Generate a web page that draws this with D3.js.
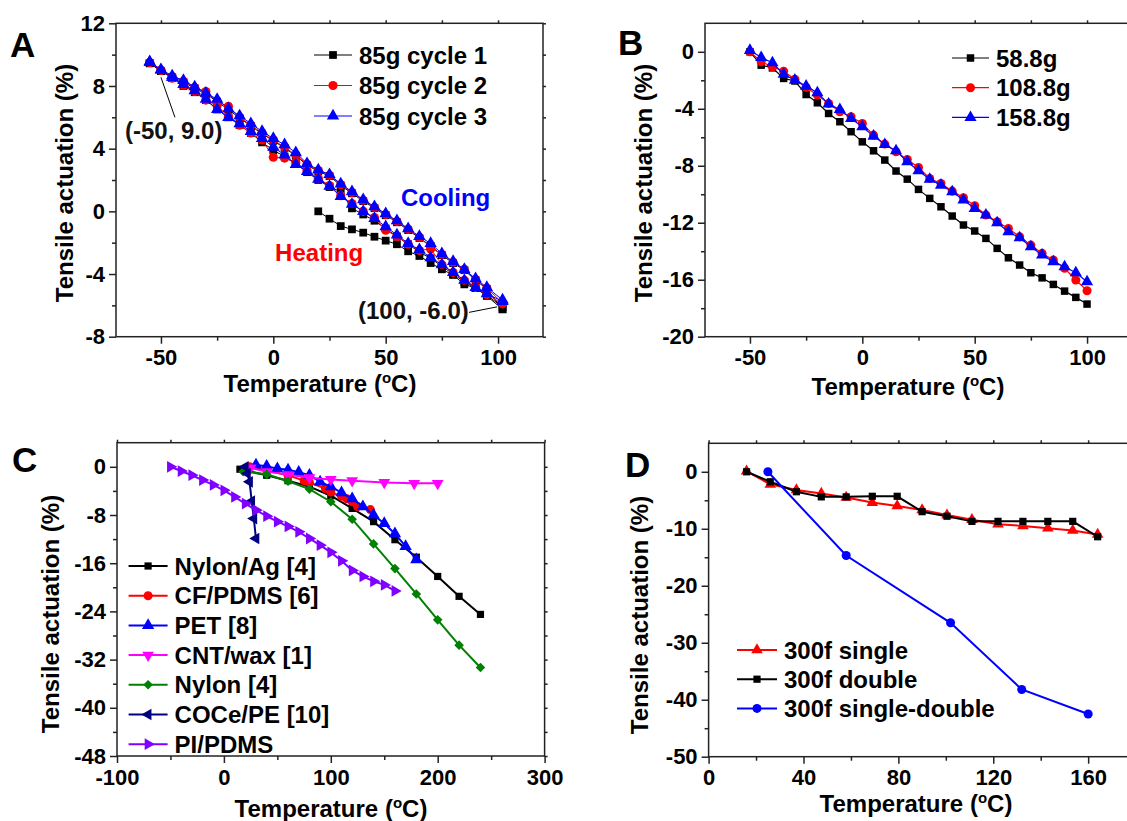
<!DOCTYPE html>
<html lang="en">
<head>
<meta charset="UTF-8">
<title>Tensile actuation</title>
<script src="https://d3js.org/d3.v7.min.js"></script>
<style>
body {margin:0; background:#fff}
svg text {font-family:"Liberation Sans", Arial, Helvetica, sans-serif; font-weight:bold}
</style>
</head>
<body>
<svg id="chart" width="1127" height="821"></svg>
<script>
// ---------- panel A : three thermal cycles under 85 g ----------
var tA_first = [20,25,30,35,40,45,50,55,60,65,70,75,80,85,90,95,102];
var yA1_first = [0,-0.47,-0.94,-1.15,-1.36,-1.62,-1.87,-2.1,-2.55,-2.85,-3.3,-3.7,-4.06,-4.66,-4.9,-5.4,-6.25];
var tA_cool = [102,95,90,85,80,75,70,65,60,55,50,45,40,35,30,25,20,15,10,5,0,-5,-10,-15,-20,-25,-30,-35,-40,-45,-50,-55];
var tA_heat = [-55,-50,-45,-40,-35,-30,-25,-20,-15,-10,-5,0,5,10,15,20,25,30,35,40,45,50,55,60,65,70,75,80,85,90,95,102];
var yA1_cool = [-6.25,-4.95,-4.4,-3.75,-3.3,-2.8,-2.2,-1.7,-1.2,-0.7,-0.25,0.2,0.65,1.15,1.65,2.25,2.55,2.95,3.55,4.05,4.5,4.95,5.45,5.95,6.5,7.0,7.5,7.85,8.25,8.55,8.95,9.45];
var yA1_heat = [9.45,8.95,8.5,8.0,7.6,7.1,6.5,6.0,5.5,5.0,4.4,3.9,3.5,3.05,2.5,2.0,1.55,1.26,0.19,-0.2,-0.6,-1.1,-1.6,-2.1,-2.6,-3.0,-3.5,-4.0,-4.5,-4.9,-5.35,-6.1];
var yA2_cool = [-5.85,-4.9,-4.35,-3.7,-3.25,-2.75,-2.3,-1.65,-1.15,-0.65,-0.2,0.25,0.7,1.2,1.7,2.3,2.6,3.0,3.6,4.1,4.55,5.0,5.5,6.0,6.7,7.0,7.65,7.9,8.3,8.6,9.0,9.5];
var yA2_heat = [9.5,9.0,8.5,8.05,7.65,7.1,6.75,6.05,5.5,5.0,4.55,3.45,3.4,3.1,2.6,2.1,1.65,1.0,0.5,0.0,-0.4,-1.2,-1.6,-2.1,-2.5,-2.4,-3.4,-3.9,-4.4,-4.85,-5.3,-5.9];
var yA3_cool = [-5.65,-4.85,-4.3,-3.7,-3.2,-2.7,-2.05,-1.6,-1.1,-0.6,-0.15,0.3,0.75,1.25,1.75,2.35,2.65,3.05,3.75,4.25,4.65,5.1,5.6,6.1,6.55,7.15,7.55,7.95,8.35,8.65,9.05,9.55];
var yA3_heat = [9.5,9.0,8.55,8.1,7.7,7.15,6.5,6.0,5.6,5.1,4.65,4.1,3.6,3.0,2.55,2.05,1.6,0.95,0.45,0.0,-0.45,-0.98,-1.5,-2.05,-2.45,-2.95,-3.4,-3.9,-4.4,-4.85,-5.25,-5.75];
var legendA = ["85g cycle 1", "85g cycle 2", "85g cycle 3"];

// ---------- panel B : different loads ----------
var tB = [-50,-45,-40,-35,-30,-25,-20,-15,-10,-5,0,5,10,15,20,25,30,35,40,45,50,55,60,65,70,75,80,85,90,95,100];
var yB_58 = [0,-0.94,-1.13,-1.87,-2.05,-3.0,-3.58,-4.33,-4.91,-5.61,-6.32,-6.95,-7.6,-8.37,-8.94,-9.66,-10.29,-10.88,-11.53,-12.16,-12.58,-13.1,-13.8,-14.46,-14.97,-15.51,-15.87,-16.33,-16.8,-17.24,-17.71];
var yB_108 = [0,-0.7,-1.05,-1.36,-1.92,-2.5,-3.04,-3.63,-4.21,-4.56,-5.03,-5.85,-6.48,-7.02,-7.56,-8.12,-8.89,-9.24,-9.78,-10.25,-10.81,-11.46,-11.93,-12.4,-12.98,-13.57,-14.15,-14.62,-15.2,-16.02,-16.77];
var yB_158 = [0.1,-0.4,-0.77,-1.57,-1.99,-2.41,-2.88,-3.67,-4.05,-4.68,-5.26,-5.92,-6.51,-6.95,-7.72,-8.35,-8.94,-9.36,-9.82,-10.41,-11.0,-11.46,-12.0,-12.63,-13.05,-13.68,-14.27,-14.74,-15.09,-15.51,-16.14];
var legendB = ["58.8g", "108.8g", "158.8g"];

// ---------- panel C : comparison with literature ----------
var tC_nylonAg = [15,40,60,80,100,120,140,160,180,200,220,240];
var yC_nylonAg = [-0.4,-1.4,-2.3,-3.3,-4.8,-6.9,-9.1,-12.1,-15.0,-18.2,-21.5,-24.5];
var tC_cf = [24,40,60,75,80,95,100,110,115,120,125,137];
var yC_cf = [0,-0.6,-1.4,-2.3,-2.6,-3.6,-4.2,-4.9,-5.3,-5.8,-6.6,-7.1];
var tC_pet = [30,40,50,60,70,80,90,100,110,120,130,140,150,160,170,180];
var yC_pet = [0.3,0.1,-0.3,-0.5,-0.9,-1.4,-2.5,-3.3,-4.3,-5.3,-6.6,-8.0,-9.4,-11.1,-13.2,-15.4];
var tC_cnt = [25,40,60,80,100,120,150,178,200];
var yC_cnt = [-0.2,-0.8,-1.3,-1.8,-2.1,-2.3,-2.6,-2.75,-2.75];
var tC_nylon = [18,40,60,80,100,120,140,160,180,200,220,240];
var yC_nylon = [-0.8,-1.25,-2.4,-3.7,-5.8,-8.7,-12.8,-16.9,-21.1,-25.4,-29.6,-33.3];
var tC_coce = [20,22,24,26,28,30];
var yC_coce = [0,-1.1,-2.5,-5.7,-8.6,-11.9];
var tC_pi = [-50,-40,-30,-20,-10,0,10,20,30,40,50,60,70,80,90,100,110,120,130,140,150,160];
var yC_pi = [0,-0.7,-1.4,-2.2,-3.0,-3.9,-5.0,-6.1,-7.2,-8.2,-9.1,-9.9,-10.8,-11.9,-13.0,-14.2,-15.6,-17.2,-18.2,-19.0,-19.6,-20.6];
var legendC = ["Nylon/Ag [4]", "CF/PDMS [6]", "PET [8]", "CNT/wax [1]", "Nylon [4]", "COCe/PE [10]", "PI/PDMS"];

// ---------- panel D : 300f yarns ----------
var tD = [16,26,37,47.5,58,69,79.5,90,100.5,111,122,132.5,143,153.5,164];
var yD_single = [0.1,-2.2,-3.2,-3.8,-4.5,-5.4,-6.0,-6.7,-7.6,-8.4,-9.2,-9.5,-9.9,-10.3,-11.0];
var yD_double = [0,-1.75,-3.5,-4.4,-4.4,-4.3,-4.3,-7.0,-7.8,-8.7,-8.7,-8.7,-8.7,-8.7,-11.4];
var tD_sd = [25,58,102,132,160];
var yD_sd = [0,-14.7,-26.5,-38.2,-42.5];
var legendD = ["300f single", "300f double", "300f single-double"];

// tick values
var ticksA = {xMajor:[-50,0,50,100], xMinor:[-25,25,75], yMajor:[-8,-4,0,4,8,12], yMinor:[-6,-2,2,6,10]};
var ticksB = {xMajor:[-50,0,50,100], xMinor:[-25,25,75], yMajor:[-20,-16,-12,-8,-4,0], yMinor:[-18,-14,-10,-6,-2]};
var ticksC = {xMajor:[-100,0,100,200,300], xMinor:[-50,50,150,250], yMajor:[-48,-40,-32,-24,-16,-8,0], yMinor:[-44,-36,-28,-20,-12,-4]};
var ticksD = {xMajor:[0,40,80,120,160], xMinor:[20,60,100,140], yMajor:[-50,-40,-30,-20,-10,0], yMinor:[-45,-35,-25,-15,-5]};

var svg = d3.select("#chart");

var shapes = {
  square: [d3.symbolSquare, 0],
  circle: [d3.symbolCircle, 0],
  up: [d3.symbolTriangle, 0],
  down: [d3.symbolTriangle, 180],
  left: [d3.symbolTriangle, -90],
  right: [d3.symbolTriangle, 90],
  diamond: [d3.symbolSquare, 45]
};

function symbolPath(shape, size) {
  return d3.symbol(shapes[shape][0], size)();
}

function makePanel(p) {
  var g = svg.append("g");
  var x = d3.scaleLinear().domain(p.xd).range([p.left, p.left + p.w]);
  var y = d3.scaleLinear().domain(p.yd).range([p.top + p.h, p.top]);
  var bottom = p.top + p.h, right = p.left + p.w;
  var fmt = function(d) { return String(d); };

  // bottom
  g.append("g").attr("transform", "translate(0," + bottom + ")")
    .call(d3.axisBottom(x).tickValues(p.ticks.xMajor).tickSize(7).tickPadding(6).tickFormat(fmt))
    .attr("font-size", 22).attr("font-family", null);
  g.append("g").attr("transform", "translate(0," + bottom + ")")
    .call(d3.axisBottom(x).tickValues(p.ticks.xMinor).tickSize(4).tickFormat(""));
  // left
  g.append("g").attr("transform", "translate(" + p.left + ",0)")
    .call(d3.axisLeft(y).tickValues(p.ticks.yMajor).tickSize(7).tickPadding(4).tickFormat(fmt))
    .attr("font-size", 22).attr("font-family", null);
  g.append("g").attr("transform", "translate(" + p.left + ",0)")
    .call(d3.axisLeft(y).tickValues(p.ticks.yMinor).tickSize(4).tickFormat(""));
  // top and right mirror ticks
  g.append("g").attr("transform", "translate(0," + p.top + ")")
    .call(d3.axisTop(x).tickValues(p.ticks.xMajor.concat(p.ticks.xMinor)).tickSize(3).tickFormat(""));
  g.append("g").attr("transform", "translate(" + right + ",0)")
    .call(d3.axisRight(y).tickValues(p.ticks.yMajor.concat(p.ticks.yMinor)).tickSize(3).tickFormat(""));

  g.selectAll(".domain").remove();
  g.selectAll(".tick line").attr("stroke", "#222").attr("stroke-width", 1.5);
  g.selectAll(".tick text").attr("fill", "#000");

  g.append("rect").attr("x", p.left).attr("y", p.top).attr("width", p.w).attr("height", p.h)
    .attr("fill", "none").attr("stroke", "#222").attr("stroke-width", 1.5);

  // titles
  var xt = g.append("text").attr("x", p.xTitle[0]).attr("y", p.xTitle[1])
    .attr("text-anchor", "middle").attr("font-size", 24);
  xt.append("tspan").text("Temperature (");
  xt.append("tspan").attr("font-size", 15).attr("dy", -9).text("o");
  xt.append("tspan").attr("dy", 9).text("C)");

  g.append("text").attr("transform", "translate(" + p.yTitle[0] + "," + p.yTitle[1] + ") rotate(-90)")
    .attr("text-anchor", "middle").attr("font-size", 24).text("Tensile actuation (%)");

  g.append("text").attr("x", p.letter[0]).attr("y", p.letter[1]).attr("font-size", 35).text(p.name);

  // series
  p.series.forEach(function(s) {
    var pts = d3.zip(s.t, s.v);
    g.append("path").datum(pts)
      .attr("d", d3.line().x(function(d) { return x(d[0]); }).y(function(d) { return y(d[1]); }))
      .attr("fill", "none").attr("stroke", s.color).attr("stroke-width", p.lw);
    g.selectAll(null).data(pts).join("path")
      .attr("d", symbolPath(s.shape, s.size || p.msize))
      .attr("transform", function(d) { return "translate(" + x(d[0]) + "," + y(d[1]) + ") rotate(" + shapes[s.shape][1] + ")"; })
      .attr("fill", s.color);
  });

  // legend
  var lg = g.append("g");
  p.legend.items.forEach(function(it, i) {
    var cy = p.legend.y + i * p.legend.dy;
    lg.append("line").attr("x1", p.legend.x).attr("x2", p.legend.x + p.legend.len)
      .attr("y1", cy).attr("y2", cy).attr("stroke", it.color).attr("stroke-width", p.legend.lw);
    lg.append("path").attr("d", symbolPath(it.shape, it.size || p.msize))
      .attr("transform", "translate(" + (p.legend.x + p.legend.len / 2) + "," + cy + ") rotate(" + shapes[it.shape][1] + ")")
      .attr("fill", it.color);
    lg.append("text").attr("x", p.legend.x + p.legend.len + 7).attr("y", cy).attr("dy", "0.36em")
      .attr("font-size", 24).text(it.label);
  });

  return {g: g, x: x, y: y};
}

// ---------- A ----------
var A = makePanel({
  name: "A", left: 116, top: 23.3, w: 427, h: 313.4, xd: [-70, 120], yd: [-8, 12], ticks: ticksA,
  xTitle: [320, 392], yTitle: [73, 183], letter: [10, 57], lw: 1, msize: 65,
  series: [
    {t: tA_first.concat(tA_cool, tA_heat), v: yA1_first.concat(yA1_cool, yA1_heat), color: "#000", shape: "square", size: 60},
    {t: tA_cool.concat(tA_heat), v: yA2_cool.concat(yA2_heat), color: "#ff0000", shape: "circle", size: 66},
    {t: tA_cool.concat(tA_heat), v: yA3_cool.concat(yA3_heat), color: "#0000ff", shape: "up", size: 66}
  ],
  legend: {x: 314, y: 55, dy: 30.5, len: 38, lw: 1.2, items: [
    {label: legendA[0], color: "#000", shape: "square", size: 60},
    {label: legendA[1], color: "#ff0000", shape: "circle", size: 66},
    {label: legendA[2], color: "#0000ff", shape: "up", size: 66}
  ]}
});
// annotations in A
A.g.append("line").attr("x1", A.x(-50)).attr("y1", A.y(9.0) + 7).attr("x2", A.x(-50) + 14).attr("y2", A.y(9.0) + 47)
  .attr("stroke", "#000").attr("stroke-width", 1);
A.g.append("text").attr("x", 125).attr("y", 139).attr("font-size", 24).attr("fill", "#111").text("(-50, 9.0)");
A.g.append("line").attr("x1", A.x(100) - 29).attr("y1", A.y(-6.0) + 7).attr("x2", A.x(100) - 1).attr("y2", A.y(-6.0) + 1.5)
  .attr("stroke", "#000").attr("stroke-width", 1);
A.g.append("text").attr("x", 358).attr("y", 319).attr("font-size", 24).attr("fill", "#111").text("(100, -6.0)");
A.g.append("text").attr("x", A.x(56.8)).attr("y", A.y(0.35)).attr("font-size", 24).attr("fill", "#0000ff").text("Cooling");
A.g.append("text").attr("x", A.x(0.8)).attr("y", A.y(-3.15)).attr("font-size", 24).attr("fill", "#ff0000").text("Heating");

// ---------- B ----------
makePanel({
  name: "B", left: 705, top: 23.3, w: 427, h: 313.4, xd: [-70, 120], yd: [-20, 2], ticks: ticksB,
  xTitle: [908, 395], yTitle: [652, 183], letter: [618, 55], lw: 1.2, msize: 60,
  series: [
    {t: tB, v: yB_58, color: "#000", shape: "square", size: 56},
    {t: tB, v: yB_108, color: "#ff0000", shape: "circle", size: 64},
    {t: tB, v: yB_158, color: "#0000ff", shape: "up", size: 64}
  ],
  legend: {x: 952, y: 58, dy: 29.7, len: 37, lw: 1.2, items: [
    {label: legendB[0], color: "#000", shape: "square", size: 56},
    {label: legendB[1], color: "#ff0000", shape: "circle", size: 64},
    {label: legendB[2], color: "#0000ff", shape: "up", size: 64}
  ]}
});

// ---------- C ----------
var colC = ["#000000", "#ff0000", "#0000ff", "#ff00ff", "#008000", "#000080", "#8000ff"];
var shpC = ["square", "circle", "up", "down", "diamond", "left", "right"];
var sizC = [52, 64, 66, 60, 46, 58, 60];
makePanel({
  name: "C", left: 117, top: 442.7, w: 427.6, h: 313.3, xd: [-100, 300], yd: [-48, 4], ticks: ticksC,
  xTitle: [331, 817], yTitle: [59, 614], letter: [12, 472], lw: 2, msize: 55,
  series: [
    {t: tC_nylonAg, v: yC_nylonAg, color: colC[0], shape: shpC[0], size: sizC[0]},
    {t: tC_cf, v: yC_cf, color: colC[1], shape: shpC[1], size: sizC[1]},
    {t: tC_pet, v: yC_pet, color: colC[2], shape: shpC[2], size: sizC[2]},
    {t: tC_cnt, v: yC_cnt, color: colC[3], shape: shpC[3], size: sizC[3]},
    {t: tC_nylon, v: yC_nylon, color: colC[4], shape: shpC[4], size: sizC[4]},
    {t: tC_coce, v: yC_coce, color: colC[5], shape: shpC[5], size: sizC[5]},
    {t: tC_pi, v: yC_pi, color: colC[6], shape: shpC[6], size: sizC[6]}
  ],
  legend: {x: 128.6, y: 566, dy: 29.7, len: 39, lw: 2, items: legendC.map(function(l, i) {
    return {label: l, color: colC[i], shape: shpC[i], size: sizC[i]};
  })}
});

// ---------- D ----------
makePanel({
  name: "D", left: 708.6, top: 443.3, w: 427, h: 313.4, xd: [0, 180], yd: [-50, 5], ticks: ticksD,
  xTitle: [916, 812], yTitle: [648, 615], letter: [625, 477], lw: 2, msize: 55,
  series: [
    {t: tD, v: yD_single, color: "#ff0000", shape: "up", size: 58},
    {t: tD, v: yD_double, color: "#000", shape: "square", size: 52},
    {t: tD_sd, v: yD_sd, color: "#0000ff", shape: "circle", size: 64}
  ],
  legend: {x: 737, y: 650, dy: 29.2, len: 40, lw: 2, items: [
    {label: legendD[0], color: "#ff0000", shape: "up", size: 58},
    {label: legendD[1], color: "#000", shape: "square", size: 52},
    {label: legendD[2], color: "#0000ff", shape: "circle", size: 64}
  ]}
});
</script>
</body>
</html>
